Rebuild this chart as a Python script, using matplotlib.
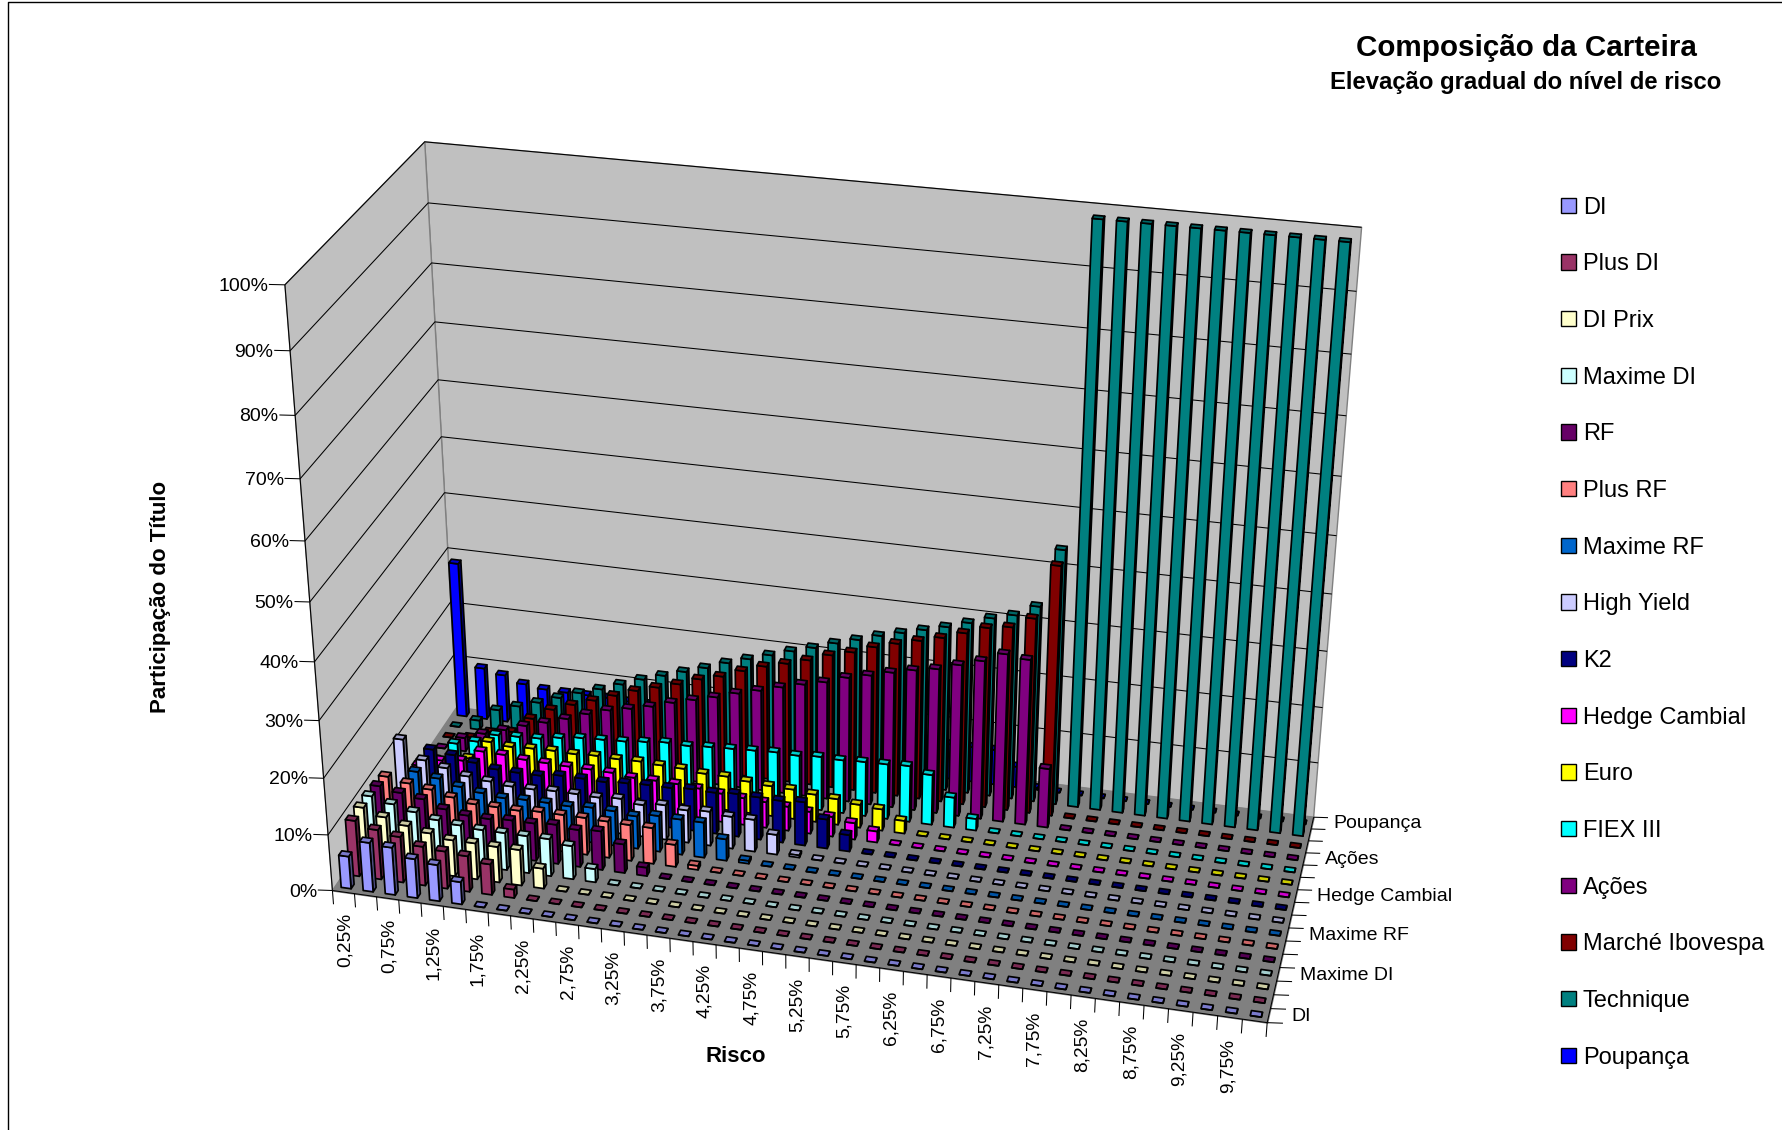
# -*- coding: utf-8 -*-
"""Composicao da Carteira - 3D bars, Excel look, camera fitted on the box corners"""
import numpy as np
import matplotlib
matplotlib.use("Agg")
import matplotlib.pyplot as plt
from matplotlib.lines import Line2D
from matplotlib.patches import Patch
from matplotlib.colors import to_rgb
from mpl_toolkits.mplot3d import proj3d
from mpl_toolkits.mplot3d.art3d import Poly3DCollection, Line3DCollection

plt.rcParams["font.family"] = ["Liberation Sans", "DejaVu Sans"]

W, H = 1783, 1130

series_names = ["DI", "Plus DI", "DI Prix", "Maxime DI", "RF", "Plus RF", "Maxime RF", "High Yield",
                "K2", "Hedge Cambial", "Euro", "FIEX III", "Ações", "Marché Ibovespa", "Technique", "Poupança"]
series_colors = ["#9999FF", "#993366", "#FFFFCC", "#CCFFFF", "#660066", "#FF8080", "#0066CC", "#CCCCFF",
                 "#000080", "#FF00FF", "#FFFF00", "#00FFFF", "#800080", "#800000", "#008080", "#0000FF"]
risco_labels = ["0,25%", "0,50%", "0,75%", "1,00%", "1,25%", "1,50%", "1,75%", "2,00%", "2,25%", "2,50%",
                "2,75%", "3,00%", "3,25%", "3,50%", "3,75%", "4,00%", "4,25%", "4,50%", "4,75%", "5,00%",
                "5,25%", "5,50%", "5,75%", "6,00%", "6,25%", "6,50%", "6,75%", "7,00%", "7,25%", "7,50%",
                "7,75%", "8,00%", "8,25%", "8,50%", "8,75%", "9,00%", "9,25%", "9,50%", "9,75%", "10,00%"]

di = [5.8, 8.8, 8.5, 7, 6.5, 4] + [0] * 34
plus_di = [10, 8.9, 8.2, 7, 6.7, 6.4, 5.5, 1.5] + [0] * 32
di_prix = [10.2, 9, 8, 7.2, 6.5, 6.5, 6.4, 6.4, 3.6] + [0] * 31
maxime_di = [10.1, 9.2, 8.3, 7.4, 7, 6.7, 6.7, 6.7, 6.7, 6, 2.4] + [0] * 29
rf = [9.8, 9.1, 8.5, 7.2, 6.6, 6.5, 6.8, 6.8, 7.1, 6.7, 7, 5.2, 1.5] + [0] * 27
plus_rf = [9.4, 8.7, 8.1, 7.2, 6.5, 6.5, 6.4, 6.7, 6.7, 6.7, 6.6, 6.5, 6.5, 4, 0.7] + [0] * 25
maxime_rf = [4, 8.7, 8, 7, 6.4, 6, 6.2, 6.2, 6.1, 6.4, 6.3, 5.9, 6.5, 6.4, 6.4, 3.9, 0.5] + [0] * 23
high_yield = [12, 8.7, 7.8, 6.8, 6.4, 6, 6, 6.2, 6.2, 6.1, 6.4, 5.8, 6.3, 5.9, 6.2, 5.8, 5.8, 3.6, 0.4] + [0] * 21
k2 = [2, 8.6, 8.1, 7.2, 6.5, 6.4, 6.4, 6.9, 6.9, 6.8, 7.1, 7.3, 7.3, 7.6, 7.5, 7.8, 7.7, 7.6, 7.9, 5.3, 3] + [0] * 19
hedge = [3, 4.5, 5, 7.2, 7.1, 6.7, 6.6, 6.5, 6.5, 6.4, 6, 6, 5.9, 5.6, 5.2, 4.9, 4.7, 4.4, 4, 3.6, 3, 2] + [0] * 18
euro = [0, 0, 3.3, 6.9, 6.5, 6.7, 6.8, 6.7, 6.9, 6.8, 6.9, 6.7, 6.6, 6.2, 6.2, 5.8, 5.5, 5.4, 5, 4.7, 4.2, 3.9,
        2.3] + [0] * 17
fiex = [0, 3.5, 4.4, 6.1, 6.3, 6.5, 7.1, 7.6, 7.8, 8, 8.4, 8.8, 8.7, 9, 9.2, 9.4, 9.6, 9.5, 9.8, 9.7, 9.9, 10,
        10.2, 9.1, 5.5, 2.1] + [0] * 14
acoes = [0, 2.5, 3.8, 5, 6.3, 7.4, 8.6, 10, 11.2, 12, 12.9, 14.1, 15.1, 16.1, 17.3, 18.3, 19.4, 20.4, 21.3, 22.6,
         23.5, 24.5, 25.4, 26.1, 27.3, 28.5, 30.2, 29.7, 10.7] + [0] * 11
marche = [0, 0.5, 2, 2.6, 5.6, 7.8, 9.2, 10.5, 11.9, 13.3, 14.4, 15.5, 16.9, 17.9, 19.4, 20.7, 21.7, 22.8, 24.2, 25.2,
          26.6, 27.7, 28.7, 29.7, 31, 32.4, 33, 35, 44.6] + [0] * 11
technique = [0, 1.7, 4.2, 5.4, 6.6, 8, 9.4, 10.6, 12, 13.4, 14.6, 15.8, 17, 18.4, 19.6, 20.8, 22, 23.1, 24.4, 25.5,
             26.7, 27.7, 28.7, 29.7, 30.9, 32.2, 33.2, 35.2, 45.5] + [100] * 11
poupanca = [28.6, 9.6, 8.8, 7.6, 7.1, 7, 7, 7, 6.8, 6.8, 6.8, 6.8, 6.6, 6.6, 6.6, 6.6, 6.6, 6.6, 6.5, 6.5, 6.5, 6.5,
            6.5, 6.4, 6.4, 6.4, 3.8, 0.3] + [0] * 12

values = [di, plus_di, di_prix, maxime_di, rf, plus_rf, maxime_rf, high_yield,
          k2, hedge, euro, fiex, acoes, marche, technique, poupanca]

n_cat, n_ser = len(risco_labels), len(series_names)

# box corners (x cell, y row, z %) -> where they sit on the page
box_xyz = np.array([[0, 0, 0], [n_cat, 0, 0], [n_cat, n_ser, 0], [0, n_ser, 0], [0, n_ser, 100],
                    [n_cat, n_ser, 100], [0, 0, 100], [0, 0, 10], [0, 0, 30]], float)
box_px = np.array([[332.3, 890], [1266.7, 1023.6], [1314, 816], [456.7, 708], [424.2, 142],
                   [1361.7, 227.7], [285.4, 284.2], [328.3, 835], [319, 720.7]], float)


def fit_camera(xyz, px):
    rows = []
    for (x, y, z), (u, v) in zip(xyz, px):
        v = H - v
        rows.append([x, y, z, 1, 0, 0, 0, 0, -u * x, -u * y, -u * z, -u])
        rows.append([0, 0, 0, 0, x, y, z, 1, -v * x, -v * y, -v * z, -v])
    P = np.linalg.svd(np.array(rows))[2][-1].reshape(3, 4)
    P = P / (P[2] @ [n_cat / 2, n_ser / 2, 0, 1])
    return np.vstack([P[0], P[1], P[2] - [0, 0, 0, 0.5], P[2]])


fig = plt.figure(figsize=(W / 100, H / 100), dpi=100)
ax = fig.add_axes([0, 0, 1, 1], projection="3d", computed_zorder=False)
ax.set_axis_off()
M = fit_camera(box_xyz, box_px)
ax.get_proj = lambda: M
ax.apply_aspect = lambda *a, **k: None


def add_line(segs, color="black", lw=0.75, zorder=3):
    ax.add_collection3d(Line3DCollection(segs, colors=color, linewidths=lw, zorder=zorder), autolim=False)


# walls and floor
left_wall = [(0, 0, 0), (0, n_ser, 0), (0, n_ser, 100), (0, 0, 100)]
back_wall = [(0, n_ser, 0), (n_cat, n_ser, 0), (n_cat, n_ser, 100), (0, n_ser, 100)]
floor = [(0, 0, 0), (n_cat, 0, 0), (n_cat, n_ser, 0), (0, n_ser, 0)]
ax.add_collection3d(Poly3DCollection([left_wall, back_wall], facecolors="#C0C0C0", edgecolors="#808080",
                                     linewidths=1, zorder=1), autolim=False)
ax.add_collection3d(Poly3DCollection([floor], facecolors="#808080", edgecolors="#808080",
                                     linewidths=1, zorder=2), autolim=False)

# gridlines + ticks
zticks = np.arange(0, 101, 10)
add_line([[(0, 0, z), (0, n_ser, z), (n_cat, n_ser, z)] for z in zticks[1:]])
add_line([[(0, 0, 0), (n_cat, 0, 0)], [(0, 0, 0), (0, 0, 100)], [(n_cat, 0, 0), (n_cat, n_ser, 0)]], zorder=4)
add_line([[(i, 0, 0), (i, 0, -2.5)] for i in range(n_cat + 1)], zorder=4)
add_line([[(n_cat, r, 0), (n_cat + 0.62, r + 0.115, 0)] for r in range(n_ser + 1)], zorder=4)
add_line([[(0, 0, z), (-0.62, -0.115, z)] for z in zticks], zorder=4)


def faces(i, r, h, wx=0.45, wy=0.36):
    x0, x1 = i + 0.5 - wx / 2, i + 0.5 + wx / 2
    y0, y1 = r + 0.5 - wy / 2, r + 0.5 + wy / 2
    top = [(x0, y0, h), (x1, y0, h), (x1, y1, h), (x0, y1, h)]
    front = [(x0, y0, 0), (x1, y0, 0), (x1, y0, h), (x0, y0, h)]
    right = [(x1, y0, 0), (x1, y1, 0), (x1, y1, h), (x1, y0, h)]
    return [front, right, top]


# back row first, painter's order
for r in range(n_ser - 1, -1, -1):
    polys, cols = [], []
    base = np.array(to_rgb(series_colors[r]))
    for i in range(n_cat):
        polys += faces(i, r, values[r][i])
        cols += [base, base * 0.5, base * 0.8]
    ax.add_collection3d(Poly3DCollection(polys, facecolors=cols, edgecolors="black", linewidths=1.25,
                                         zorder=10 + n_ser - r), autolim=False)

ax.viewLim.intervalx = (0, W)
ax.viewLim.intervaly = (0, H)


def page_xy(x, y, z):
    xp, yp, _ = proj3d.proj_transform(x, y, z, M)
    return xp, yp


for z in zticks:
    xp, yp = page_xy(-0.63, -0.16, z)
    ax.text2D(xp, yp - 1.5, "%d%%" % z, transform=ax.transData, ha="right", va="center", fontsize=14, zorder=50)
for i in range(0, n_cat, 2):
    xp, yp = page_xy(i + 0.5, 0, -3.8)
    ax.text2D(xp, yp, risco_labels[i], transform=ax.transData, rotation=90, ha="center", va="top", fontsize=13.8,
              zorder=50)
for r in range(0, n_ser, 3):
    xp, yp = page_xy(n_cat + 0.9, r + 0.65, 0)
    ax.text2D(xp, yp, series_names[r], transform=ax.transData, ha="left", va="center", fontsize=14, zorder=50)

fig.text(1526 / W, 1 - 47.5 / H, "Composição da Carteira", ha="center", va="center", fontsize=21.3, weight="bold")
fig.text(1526 / W, 1 - 83 / H, "Elevação gradual do nível de risco", ha="center", va="center", fontsize=17.2,
         weight="bold")
fig.text(736 / W, 1 - 1057 / H, "Risco", ha="center", va="center", fontsize=16, weight="bold")
fig.text(161 / W, 1 - 597 / H, "Participação do Título", ha="center", va="center", rotation=90, fontsize=16,
         weight="bold")

handles = [Patch(facecolor=c, edgecolor="black", linewidth=1, label=n) for c, n in zip(series_colors, series_names)]
fig.legend(handles=handles, loc="upper left", bbox_to_anchor=(1561 / W, 1 - 196.7 / H), frameon=False, fontsize=17,
           borderpad=0, borderaxespad=0, handlelength=0.62, handleheight=0.62, handletextpad=0.3, labelspacing=1.468)

fig.add_artist(Line2D([8 / W, 8 / W, 1], [0, 1 - 2 / H, 1 - 2 / H], color="black", lw=1))

fig.savefig("out.png", dpi=100, facecolor="white")
